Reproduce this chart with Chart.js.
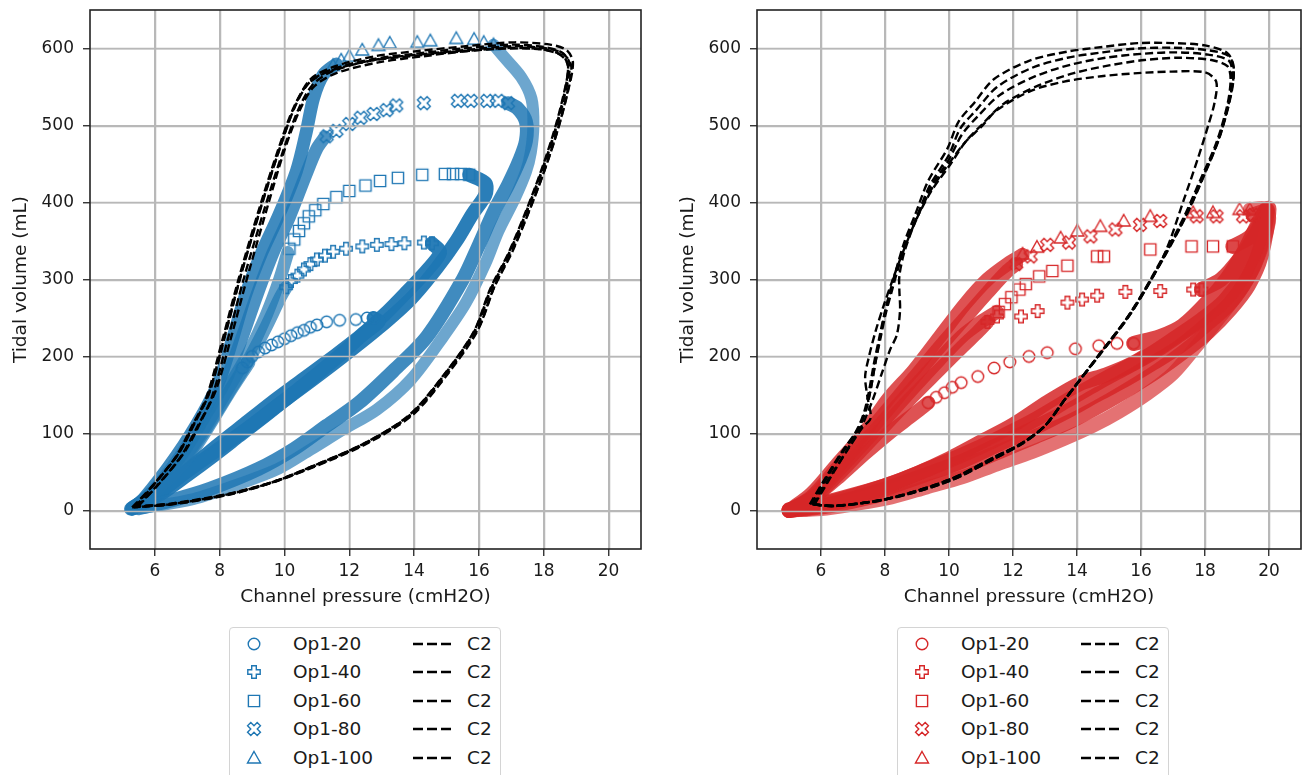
<!DOCTYPE html>
<html>
<head>
<meta charset="utf-8">
<script src="https://cdn.jsdelivr.net/npm/chart.js@4.4.1/dist/chart.umd.min.js"></script>
<style>
  html, body { margin: 0; padding: 0; background: #fff; }
  #wrap { position: relative; width: 1308px; height: 775px; overflow: hidden; background: #fff; }
  canvas.plot { position: absolute; top: 0; }
  .legend { position: absolute; top: 627px; width: 270px; height: 170px; border: 1px solid #d4d4d4;
            border-radius: 4px; background: #fff; font-family: "DejaVu Sans", sans-serif; font-size: 18.5px; color: #1a1a1a; }
  .legend .row { position: absolute; left: 0; width: 100%; height: 28px; }
  .legend .mk { position: absolute; left: 15px; top: 5px; }
  .legend .lab { position: absolute; left: 63px; top: 1px; line-height: 26px; }
  .legend .dash { position: absolute; left: 183px; top: 11px; }
  .legend .ref { position: absolute; left: 237px; top: 1px; line-height: 26px; }
</style>
</head>
<body>
<div id="wrap">
  <canvas id="leftChart" class="plot" width="651" height="615" style="left:0px"></canvas>
  <canvas id="rightChart" class="plot" width="641" height="615" style="left:667px"></canvas>
  <div id="leftLegend" class="legend" style="left:229px"></div>
  <div id="rightLegend" class="legend" style="left:897px"></div>
</div>
<script>
// axes
const xTicks = [6, 8, 10, 12, 14, 16, 18, 20];
const yTicks = [0, 100, 200, 300, 400, 500, 600];
const xRange = [4, 21];
const yRange = [-50, 650];
const seriesLabels = ['Op1-20', 'Op1-40', 'Op1-60', 'Op1-80', 'Op1-100'];
const refLabel = 'C2';
const markerShapes = ['circle', 'plus', 'square', 'cross', 'triangle'];

// ---- left panel (blue) ----
const leftC2a = [[5.4,5],[6.0,35],[6.7,72],[7.2,112],[7.65,150],[8.15,226],[8.65,305],[9.3,398],[9.85,470],[10.3,522],[10.75,555],[11.4,572],[12.7,586],[14.0,593],[15.5,600],[17.0,605],[18.0,602],[18.55,595],[18.8,580],[18.65,540],[18.3,485],[17.75,418],[17.0,340],[16.4,290],[15.9,235],[15.0,180],[13.9,125],[12.5,88],[11.0,60],[9.7,38],[8.3,22],[6.5,9],[5.4,5]];
const leftC2b = [[5.35,4],[6.05,38],[6.75,75],[7.25,115],[7.7,155],[8.2,232],[8.7,312],[9.35,404],[9.9,476],[10.35,528],[10.8,560],[11.5,576],[12.8,590],[14.2,597],[15.6,603],[17.1,608],[18.2,605],[18.7,598],[18.9,582],[18.75,545],[18.4,490],[17.85,422],[17.1,344],[16.5,293],[16.0,238],[15.1,182],[14.0,127],[12.6,89],[11.1,61],[9.8,39],[8.4,22],[6.6,9],[5.35,4]];
const leftC2c = [[5.5,6],[6.2,38],[6.95,78],[7.45,118],[7.9,158],[8.4,232],[8.9,310],[9.5,398],[10.0,468],[10.45,518],[10.9,550],[11.6,568],[12.9,582],[14.3,590],[15.7,597],[17.1,601],[18.1,598],[18.6,590],[18.75,575],[18.6,535],[18.25,480],[17.7,414],[16.95,336],[16.35,286],[15.85,232],[14.95,177],[13.85,123],[12.45,86],[10.95,58],[9.65,37],[8.25,21],[6.45,8],[5.5,6]];
const leftC2d = [[5.45,5],[6.1,34],[6.8,70],[7.3,108],[7.75,146],[8.25,222],[8.75,302],[9.4,394],[9.95,466],[10.4,518],[10.85,552],[11.45,570],[12.75,585],[14.1,592],[15.6,598],[17.05,603],[18.1,600],[18.6,593],[18.85,577],[18.7,538],[18.35,483],[17.8,416],[17.05,338],[16.45,288],[15.95,233],[15.05,178],[13.95,124],[12.55,87],[11.05,59],[9.75,38],[8.35,21],[6.55,8],[5.45,5]];
const leftC2e = [[5.3,4],[5.95,33],[6.65,70],[7.15,110],[7.6,148],[8.1,224],[8.6,303],[9.25,396],[9.8,468],[10.25,520],[10.7,553],[11.35,570],[12.65,584],[13.9,590],[15.4,596],[16.9,600],[17.9,599],[18.5,592],[18.75,578],[18.6,538],[18.25,483],[17.7,416],[16.95,338],[16.35,288],[15.85,233],[14.95,178],[13.85,124],[12.45,87],[10.95,59],[9.65,37],[8.25,21],[6.45,8],[5.3,4]];

const leftInsp20 = [[5.3,2],[6.1,28],[6.9,62],[7.6,105],[8.25,150],[8.9,192]];
const leftInsp40 = [[5.3,2],[6.1,30],[6.9,66],[7.6,108],[8.25,152],[8.9,196],[9.45,240],[9.85,275],[10.05,290]];
const leftInsp60 = [[5.3,2],[6.1,31],[6.9,68],[7.6,112],[8.25,158],[8.9,205],[9.45,255],[9.85,300],[10.1,335]];
const leftInsp80 = [[5.3,2],[5.75,15],[6.8,71],[7.6,127],[8.2,170],[8.7,226],[9.15,280],[9.65,335],[10.15,381],[10.65,435],[11.0,470],[11.25,485]];
const leftInsp100 = [[5.25,2],[5.65,15],[6.67,71],[7.5,127],[8.0,170],[8.42,226],[8.8,280],[9.3,335],[9.8,381],[10.37,441],[10.68,493],[10.9,536],[11.2,566],[11.6,580]];

const leftMarks20 = [[8.7,185],[8.85,193],[9.0,200],[9.2,206],[9.4,211],[9.6,215],[9.8,219],[10.0,223],[10.2,227],[10.4,231],[10.6,234],[10.8,238],[11.0,241],[11.3,245],[11.7,247],[12.2,248],[12.55,250],[12.75,250]];
const leftMarks40 = [[10.05,290],[10.2,298],[10.4,305],[10.6,313],[10.8,320],[11.0,326],[11.25,331],[11.5,336],[11.9,340],[12.4,343],[12.85,345],[13.3,346],[13.7,347],[14.3,348],[14.55,347]];
const leftMarks60 = [[10.15,340],[10.3,352],[10.45,363],[10.6,373],[10.75,382],[10.95,390],[11.2,398],[11.6,407],[12.0,415],[12.5,422],[12.95,428],[13.5,432],[14.25,436],[14.95,437],[15.2,437],[15.45,437],[15.7,436]];
const leftMarks80 = [[11.3,486],[11.6,493],[12.0,502],[12.35,510],[12.75,515],[13.15,520],[13.45,526],[14.3,529],[15.35,532],[15.75,532],[16.25,532],[16.6,532],[16.9,529]];
const leftMarks100 = [[11.5,578],[11.75,585],[12.0,590],[12.4,598],[12.9,604],[13.25,607],[14.1,608],[14.5,610],[15.3,613],[15.85,612],[16.15,608],[16.45,605]];

const leftExp20 = [[12.75,250],[12.9,245],[12.4,228],[11.8,205],[11.0,177],[10.2,150],[9.4,123],[8.6,97],[7.8,71],[7.0,46],[6.2,22],[5.4,4]];
const leftExp40 = [[14.55,347],[14.8,335],[14.4,312],[13.8,285],[13.1,255],[12.3,225],[11.4,196],[10.5,168],[9.6,140],[8.7,110],[7.8,80],[7.0,52],[6.2,25],[5.4,5]];
const leftExp60 = [[15.7,436],[16.2,425],[16.2,410],[15.8,385],[15.3,350],[14.7,315],[13.9,275],[12.9,237],[11.8,200],[10.8,168],[9.8,137],[8.8,105],[7.8,75],[6.8,45],[5.9,18],[5.3,3]];
const leftExp80 = [[16.9,529],[17.2,522],[17.45,505],[17.45,480],[17.25,455],[16.9,423],[16.47,389],[16.0,345],[15.5,300],[14.4,226],[13.4,183],[12.3,140],[11.3,110],[10.3,80],[9.2,54],[7.7,28],[6.6,14],[5.5,3]];
const leftExp100 = [[16.45,605],[16.75,590],[17.3,563],[17.62,535],[17.68,500],[17.6,465],[17.45,440],[17.1,405],[16.6,363],[16.2,321],[15.6,270],[14.9,226],[13.9,170],[12.85,131],[11.8,105],[10.8,79],[9.8,54],[8.7,36],[7.2,15],[5.6,3]];

// ---- right panel (red) ----
const rightC2a = [[5.7,8],[6.2,45],[6.7,78],[7.15,105],[7.4,130],[7.55,157],[7.7,192],[7.85,226],[8.0,257],[8.15,283],[8.35,313],[8.6,348],[8.95,385],[9.35,428],[9.95,470],[10.3,505],[10.8,530],[11.4,560],[12.5,584],[13.7,596],[14.8,602],[15.9,607],[17.0,607],[18.0,604],[18.7,594],[18.9,575],[18.8,540],[18.45,485],[17.95,434],[17.45,387],[16.75,332],[15.7,258],[14.65,200],[13.6,143],[13.0,110],[12.3,88],[11.4,69],[10.0,40],[8.15,16],[6.5,6],[5.7,8]];
const rightC2b = [[5.7,8],[6.2,44],[6.7,77],[7.15,104],[7.4,130],[7.55,157],[7.7,192],[7.87,226],[8.03,257],[8.2,283],[8.4,313],[8.65,346],[9.0,382],[9.4,422],[10.0,462],[10.35,496],[10.85,520],[11.5,550],[12.6,575],[13.7,588],[14.8,595],[15.9,600],[17.0,601],[18.05,598],[18.75,590],[18.9,570],[18.8,537],[18.45,484],[17.95,433],[17.45,386],[16.75,331],[15.7,257],[14.65,199],[13.6,143],[13.0,110],[12.3,88],[11.4,69],[10.0,40],[8.15,16],[6.5,6],[5.7,8]];
const rightC2c = [[5.65,8],[6.15,43],[6.65,76],[7.1,103],[7.35,128],[7.5,155],[7.65,190],[7.82,224],[7.98,255],[8.15,282],[8.35,312],[8.62,345],[8.98,380],[9.4,418],[10.0,456],[10.4,488],[10.9,512],[11.6,540],[12.7,564],[13.8,579],[14.9,588],[16.0,593],[17.1,595],[18.1,592],[18.75,584],[18.85,565],[18.75,530],[18.4,480],[17.9,431],[17.4,384],[16.72,330],[15.68,256],[14.64,199],[13.6,143],[13.0,110],[12.3,88],[11.4,68],[10.0,39],[8.15,16],[6.45,6],[5.65,8]];
const rightC2d = [[5.75,8],[6.3,45],[6.85,80],[7.3,108],[7.55,120],[7.45,148],[7.38,174],[7.5,200],[7.7,232],[7.95,265],[8.2,295],[8.4,318],[8.65,345],[9.0,380],[9.45,415],[10.05,450],[10.5,478],[11.0,500],[11.7,528],[12.8,552],[13.9,568],[15.0,578],[16.1,585],[17.2,588],[18.2,585],[18.7,577],[18.8,560],[18.7,527],[18.35,477],[17.85,429],[17.35,382],[16.7,330],[15.66,256],[14.63,199],[13.6,143],[13.0,110],[12.3,87],[11.4,67],[10.0,38],[8.1,15],[6.4,6],[5.75,8]];
const rightC2e = [[5.8,8],[6.4,50],[6.95,88],[7.3,112],[7.6,142],[7.9,178],[8.16,209],[8.37,228],[8.47,260],[8.45,285],[8.45,305],[8.6,335],[8.9,370],[9.35,410],[9.9,445],[10.5,478],[11.0,498],[11.5,520],[12.56,545],[13.6,557],[14.76,564],[15.9,568],[16.96,570],[18.0,569],[18.35,557],[18.3,530],[18.1,500],[17.8,460],[17.35,405],[16.7,330],[15.66,256],[14.63,199],[13.6,143],[13.0,110],[12.3,87],[11.4,67],[10.0,38],[8.1,15],[6.4,6],[5.8,8]];

const rightInsp20 = [[5.0,0],[5.8,18],[6.6,45],[7.4,75],[8.2,103],[8.8,122],[9.35,140]];
const rightInsp40 = [[5.0,0],[5.7,14],[6.5,45],[7.3,80],[8.1,115],[8.9,150],[9.7,183],[10.4,212],[10.9,232],[11.2,245]];
const rightInsp60 = [[5.0,0],[5.7,16],[6.5,50],[7.3,86],[8.1,123],[8.9,160],[9.7,196],[10.4,226],[11.0,245],[11.5,258]];
const rightInsp80 = [[5.0,0],[5.7,18],[6.5,55],[7.3,93],[8.1,132],[8.9,172],[9.7,212],[10.5,250],[11.2,283],[11.8,310],[12.1,320]];
const rightInsp100 = [[5.0,0],[5.7,22],[6.5,60],[7.3,98],[8.1,145],[8.9,182],[9.7,225],[10.5,268],[11.2,300],[11.9,322],[12.3,332]];

const rightMarks20 = [[9.35,140],[9.6,147],[9.86,153],[10.1,160],[10.38,166],[10.9,174],[11.41,185],[11.9,193],[12.5,200],[13.07,205],[13.95,210],[14.68,214],[15.25,217],[15.77,217]];
const rightMarks40 = [[11.2,245],[11.5,252],[12.25,252],[12.77,259],[13.7,270],[14.16,274],[14.63,279],[15.51,284],[16.6,285],[17.63,287],[17.89,287]];
const rightMarks60 = [[11.55,258],[11.75,268],[11.95,277],[12.2,287],[12.4,294],[12.82,304],[13.23,311],[13.7,318],[14.63,330],[14.84,330],[16.29,339],[17.58,343],[18.25,343],[18.87,343]];
const rightMarks80 = [[12.1,320],[12.55,330],[13.07,345],[13.75,348],[14.42,356],[15.2,365],[15.97,371],[16.6,376],[17.74,382],[18.36,382],[19.19,382],[19.5,384]];
const rightMarks100 = [[12.3,333],[12.75,342],[13.49,354],[14.01,363],[14.73,369],[15.46,376],[16.29,382],[17.63,387],[18.25,387],[19.08,391],[19.4,391]];

const rightPost20 = [[15.77,217],[16.6,226],[17.3,240],[18.1,272],[18.7,302],[19.2,335],[19.6,368],[19.9,390],[19.7,355],[19.3,315],[18.8,282],[18.1,255],[17.3,232],[16.5,210],[15.7,190],[14.9,176],[14.1,165],[13.1,141],[12.0,111],[11.0,89],[10.0,67],[9.0,48],[8.0,32],[7.0,19],[6.0,8],[5.0,1]];
const rightPost40 = [[17.89,287],[18.5,300],[19.1,328],[19.6,360],[19.9,388],[19.65,345],[19.2,305],[18.6,272],[17.9,248],[17.1,225],[16.3,203],[15.5,185],[14.7,167],[13.7,143],[12.6,116],[11.5,93],[10.4,72],[9.3,53],[8.2,35],[7.1,21],[6.0,9],[5.0,0]];
const rightPost60 = [[18.87,343],[19.4,355],[19.8,378],[19.95,390],[19.7,338],[19.3,300],[18.75,268],[18.0,240],[17.2,213],[16.4,192],[15.6,172],[14.7,152],[13.7,129],[12.6,106],[11.5,85],[10.4,64],[9.3,47],[8.2,31],[7.1,17],[6.0,6],[5.0,0]];
const rightPost80 = [[19.5,384],[19.8,388],[20.0,392],[19.75,330],[19.35,292],[18.8,262],[18.1,232],[17.3,205],[16.5,181],[15.7,160],[14.8,138],[13.8,116],[12.7,96],[11.6,77],[10.5,58],[9.4,41],[8.3,26],[7.2,14],[6.1,5],[5.0,0]];
const rightPost100 = [[19.4,391],[19.9,392],[20.0,375],[19.55,318],[19.0,280],[18.4,248],[17.7,212],[17.0,178],[16.2,152],[15.3,128],[14.5,110],[13.6,93],[12.6,76],[11.5,60],[10.4,43],[9.3,30],[8.2,17],[7.0,8],[6.0,2],[5.0,0]];

const gridColor = '#b8b8b8';
const textColor = '#1a1a1a';
Chart.defaults.font.family = '"DejaVu Sans", sans-serif';

const toXY = arr => arr.map(p => ({ x: p[0], y: p[1] }));

// hollow marker drawn once per shape and colour, used as a Chart.js pointStyle
function makeMarker(shape, color) {
  const c = document.createElement('canvas');
  c.width = 18;
  c.height = 18;
  const g = c.getContext('2d');
  g.translate(9, 9);
  g.strokeStyle = color;
  g.lineWidth = 1.4;
  g.beginPath();
  if (shape === 'circle') {
    g.arc(0, 0, 5.8, 0, Math.PI * 2);
  } else if (shape === 'square') {
    g.rect(-5.6, -5.6, 11.2, 11.2);
  } else if (shape === 'triangle') {
    g.moveTo(0, -6.5);
    g.lineTo(6.5, 5);
    g.lineTo(-6.5, 5);
    g.closePath();
  } else {
    const a = 2.3;
    const h = shape === 'cross' ? 6.8 : 6.2;
    if (shape === 'cross') g.rotate(Math.PI / 4);
    const pts = [[-a,-h],[a,-h],[a,-a],[h,-a],[h,a],[a,a],[a,h],[-a,h],[-a,a],[-h,a],[-h,-a],[-a,-a]];
    pts.forEach((p, i) => (i ? g.lineTo(p[0], p[1]) : g.moveTo(p[0], p[1])));
    g.closePath();
  }
  g.stroke();
  return c;
}

function buildDatasets(panel, color, rgb) {
  const datasets = [];
  panel.c2.forEach(loop => {
    datasets.push({
      data: toXY(loop), showLine: true, isC2: true, order: 1,
      borderColor: '#000', borderWidth: 2.4, borderDash: [8, 4],
      pointRadius: 0, tension: 0.3
    });
  });
  panel.marks.forEach((m, i) => {
    datasets.push({
      label: seriesLabels[i], data: toXY(m), order: 2,
      pointStyle: makeMarker(markerShapes[i], color), pointRadius: 6,
      borderColor: color, backgroundColor: 'transparent'
    });
  });
  panel.bands.forEach(b => {
    datasets.push({
      data: toXY(b.pts), showLine: true, order: 3,
      borderColor: 'rgba(' + rgb + ',' + b.alpha + ')', borderWidth: b.width,
      borderCapStyle: 'round', borderJoinStyle: 'round',
      pointRadius: 0, tension: 0.3
    });
  });
  return datasets;
}

// frame around the axes, and grid redrawn above the markers but under the C2 lines
const axesPlugin = {
  id: 'axesFrame',
  beforeDraw(chart) { chart.$gridDone = false; },
  beforeDatasetDraw(chart, args) {
    const ds = chart.data.datasets[args.index];
    if (!ds.isC2 || chart.$gridDone) return;
    chart.$gridDone = true;
    const { ctx, chartArea: a, scales } = chart;
    ctx.save();
    ctx.strokeStyle = gridColor;
    ctx.lineWidth = 1.5;
    ctx.beginPath();
    scales.x.ticks.forEach(t => {
      const px = Math.round(scales.x.getPixelForValue(t.value)) + 0.5;
      ctx.moveTo(px, a.top);
      ctx.lineTo(px, a.bottom);
    });
    scales.y.ticks.forEach(t => {
      const py = Math.round(scales.y.getPixelForValue(t.value)) + 0.5;
      ctx.moveTo(a.left, py);
      ctx.lineTo(a.right, py);
    });
    ctx.stroke();
    ctx.restore();
  },
  afterDraw(chart) {
    const { ctx, chartArea: a } = chart;
    ctx.save();
    ctx.strokeStyle = '#222';
    ctx.lineWidth = 1.6;
    ctx.strokeRect(a.left, a.top, a.right - a.left, a.bottom - a.top);
    ctx.restore();
  }
};

function renderPanel(canvasId, panel, color, rgb, padRight) {
  new Chart(document.getElementById(canvasId), {
    type: 'scatter',
    data: { datasets: buildDatasets(panel, color, rgb) },
    options: {
      responsive: false,
      animation: false,
      events: [],
      layout: { padding: { top: 10, right: padRight, left: 0, bottom: 0 } },
      plugins: { legend: { display: false }, tooltip: { enabled: false } },
      scales: {
        x: {
          type: 'linear', min: xRange[0], max: xRange[1],
          afterBuildTicks: s => { s.ticks = xTicks.map(v => ({ value: v })); },
          afterFit: s => { s.height = 66; s.paddingLeft = 0; s.paddingRight = 0; },
          border: { display: false },
          grid: { color: gridColor, lineWidth: 1.5, tickLength: 7, tickColor: '#222', tickWidth: 1.3 },
          ticks: { padding: 5, color: textColor, font: { size: 17 } },
          title: { display: true, text: 'Channel pressure (cmH2O)', color: textColor,
                   font: { size: 18.5 }, padding: { top: 0, bottom: 7 } }
        },
        y: {
          type: 'linear', min: yRange[0], max: yRange[1],
          afterBuildTicks: s => { s.ticks = yTicks.map(v => ({ value: v })); },
          afterFit: s => { s.width = 90; s.paddingTop = 0; s.paddingBottom = 0; },
          border: { display: false },
          grid: { color: gridColor, lineWidth: 1.5, tickLength: 7, tickColor: '#222', tickWidth: 1.3 },
          ticks: { padding: 9, color: textColor, font: { size: 17 } },
          title: { display: true, text: 'Tidal volume (mL)', color: textColor,
                   font: { size: 18.5 }, padding: { top: 10, bottom: 0 } }
        }
      }
    },
    plugins: [axesPlugin]
  });
}

function renderLegend(boxId, color) {
  const box = document.getElementById(boxId);
  seriesLabels.forEach((label, i) => {
    const row = document.createElement('div');
    row.className = 'row';
    row.style.top = (2 + i * 28.4) + 'px';
    const mk = makeMarker(markerShapes[i], color);
    mk.className = 'mk';
    const lab = document.createElement('span');
    lab.className = 'lab';
    lab.textContent = label;
    const dash = document.createElement('canvas');
    dash.className = 'dash';
    dash.width = 38;
    dash.height = 6;
    const g = dash.getContext('2d');
    g.strokeStyle = '#000';
    g.lineWidth = 2.5;
    g.setLineDash([10, 4]);
    g.beginPath();
    g.moveTo(0, 3);
    g.lineTo(38, 3);
    g.stroke();
    const ref = document.createElement('span');
    ref.className = 'ref';
    ref.textContent = refLabel;
    row.append(mk, lab, dash, ref);
    box.appendChild(row);
  });
}

const leftPanel = {
  c2: [leftC2a, leftC2b, leftC2c, leftC2d, leftC2e],
  marks: [leftMarks20, leftMarks40, leftMarks60, leftMarks80, leftMarks100],
  bands: [
    { pts: leftExp100, alpha: 0.65, width: 12 },
    { pts: leftExp80, alpha: 0.85, width: 14 },
    { pts: leftInsp20, alpha: 0.7, width: 13 },
    { pts: leftInsp40, alpha: 0.7, width: 13 },
    { pts: leftInsp60, alpha: 0.7, width: 13 },
    { pts: leftInsp80, alpha: 0.8, width: 13 },
    { pts: leftInsp100, alpha: 0.85, width: 13 },
    { pts: leftExp20, alpha: 0.95, width: 14 },
    { pts: leftExp40, alpha: 0.95, width: 14 },
    { pts: leftExp60, alpha: 0.95, width: 14 }
  ]
};
const rightPanel = {
  c2: [rightC2a, rightC2b, rightC2c, rightC2d, rightC2e],
  marks: [rightMarks20, rightMarks40, rightMarks60, rightMarks80, rightMarks100],
  bands: [
    { pts: rightInsp20, alpha: 0.8, width: 14 },
    { pts: rightInsp40, alpha: 0.8, width: 14 },
    { pts: rightInsp60, alpha: 0.8, width: 14 },
    { pts: rightInsp80, alpha: 0.8, width: 14 },
    { pts: rightInsp100, alpha: 0.8, width: 14 },
    { pts: rightPost20, alpha: 0.85, width: 15 },
    { pts: rightPost40, alpha: 0.85, width: 15 },
    { pts: rightPost60, alpha: 0.85, width: 15 },
    { pts: rightPost80, alpha: 0.8, width: 15 },
    { pts: rightPost100, alpha: 0.65, width: 14 }
  ]
};

renderPanel('leftChart', leftPanel, '#1f77b4', '31,119,180', 10);
renderPanel('rightChart', rightPanel, '#d62728', '214,39,40', 3);
renderLegend('leftLegend', '#1f77b4');
renderLegend('rightLegend', '#d62728');
</script>
</body>
</html>
